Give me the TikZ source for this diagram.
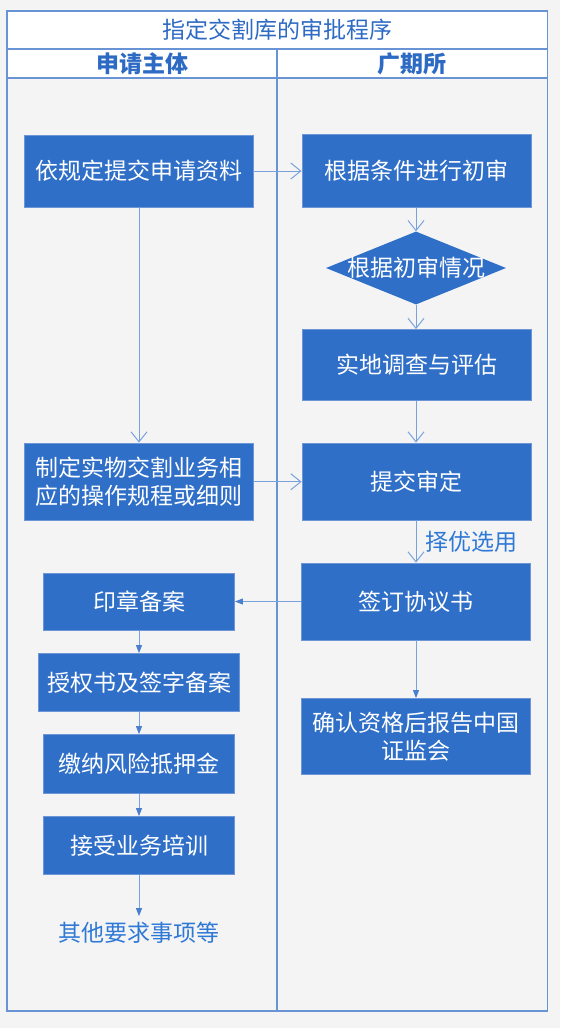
\documentclass[tikz,border=0pt]{standalone}
\usepackage{fontspec}
\setmainfont{Noto Sans CJK SC}
\usetikzlibrary{arrows.meta,shapes.geometric}
\definecolor{bg}{RGB}{244,244,244}
\definecolor{boxfill}{RGB}{47,111,200}
\definecolor{boxedge}{RGB}{110,150,215}
\definecolor{frame}{RGB}{104,148,214}
\definecolor{conn}{RGB}{120,162,222}
\definecolor{tipc}{RGB}{74,127,208}
\definecolor{ttl}{RGB}{45,106,196}
\definecolor{note}{RGB}{46,120,214}
\tikzset{
  box/.style={rectangle, draw=boxedge, line width=0.8pt, fill=boxfill, text=white,
    font=\fontsize{23}{28}\selectfont, align=center, inner sep=0pt},
  dia/.style={diamond, aspect=2.46, fill=boxfill, text=white, inner xsep=-14pt, inner ysep=-6pt,
    font=\fontsize{23}{28}\selectfont},
  openarr/.style={draw=conn, line width=1pt, -{Straight Barb[length=10pt,width=16pt]}},
  fillarr/.style={draw=conn, line width=1pt, -{Triangle[length=8pt,width=6pt,color=tipc]}},
  framel/.style={draw=frame, line width=1.5pt},
  lbl/.style={font=\fontsize{23}{28}\selectfont, text=note, inner sep=0pt}
}
\begin{document}
\begin{tikzpicture}[x=1pt,y=-1pt]
\useasboundingbox (0,0) rectangle (560,1028);
\fill[bg] (0,0) rectangle (560,1028);
\fill[white] (7,11) rectangle (547.5,78);
% frame
\draw[framel] (7,11) rectangle (547.5,1011);
\draw[framel] (7,49) -- (547.5,49);
\draw[framel] (7,78) -- (547.5,78);
\draw[framel] (277,49) -- (277,1011);
\node[font=\fontsize{23}{28}\selectfont, text=ttl, inner sep=0pt] (title) at (277,30) {指定交割库的审批程序};
\node[font=\fontsize{23}{28}\selectfont\bfseries, text=ttl, inner sep=0pt] (h1) at (142,63.5) {申请主体};
\node[font=\fontsize{23}{28}\selectfont\bfseries, text=ttl, inner sep=0pt] (h2) at (412,63.5) {广期所};
% left column
\node[box, minimum width=228.5pt, minimum height=72pt] (a1) at (138.75,171) {依规定提交申请资料};
\node[box, minimum width=229pt, minimum height=77.5pt] (a2) at (139,481.75) {制定实物交割业务相\\应的操作规程或细则};
\node[box, minimum width=191pt, minimum height=57pt] (a3) at (139,602) {印章备案};
\node[box, minimum width=201pt, minimum height=58pt] (a4) at (139,682.5) {授权书及签字备案};
\node[box, minimum width=191pt, minimum height=59pt] (a5) at (139,764) {缴纳风险抵押金};
\node[box, minimum width=191pt, minimum height=58pt] (a6) at (139,845.5) {接受业务培训};
\node[lbl] (t) at (139,933) {其他要求事项等};
% right column
\node[box, minimum width=229.5pt, minimum height=72.5pt] (b1) at (416.75,171) {根据条件进行初审};
\node[dia, minimum width=180pt, minimum height=73pt] (d) at (416,268) {根据初审情况};
\node[box, minimum width=229pt, minimum height=71pt] (b2) at (416.5,365) {实地调查与评估};
\node[box, minimum width=229pt, minimum height=77pt] (b3) at (416.5,481.5) {提交审定};
\node[box, minimum width=229pt, minimum height=77pt] (b4) at (416,601.5) {签订协议书};
\node[box, minimum width=229pt, minimum height=76pt] (b5) at (416,736.5) {确认资格后报告中国\\证监会};
% connectors
\draw[openarr] (a1.east) -- (b1.west |- a1.east);
\draw[openarr] (a1.south -| a2.north) -- (a2.north);
\draw[openarr] (a2.east) -- (b3.west |- a2.east);
\draw[openarr] (b1.south -| d.north) -- (d.north);
\draw[openarr] (d.south) -- (d.south |- b2.north);
\draw[openarr] (b2.south -| d.south) -- (d.south |- b3.north);
\draw[openarr] (b3.south -| d.south) -- node[lbl, right=9pt] {择优选用} (d.south |- b4.north);
\draw[fillarr] (b4.west) -- (a3.east |- b4.west);
\draw[fillarr] (b4.south) -- (b5.north);
\draw[fillarr] (a3.south) -- (a4.north);
\draw[fillarr] (a4.south) -- (a5.north);
\draw[fillarr] (a5.south) -- (a6.north);
\draw[fillarr] (a6.south) -- ([yshift=6pt]t.north);
\end{tikzpicture}
\end{document}
